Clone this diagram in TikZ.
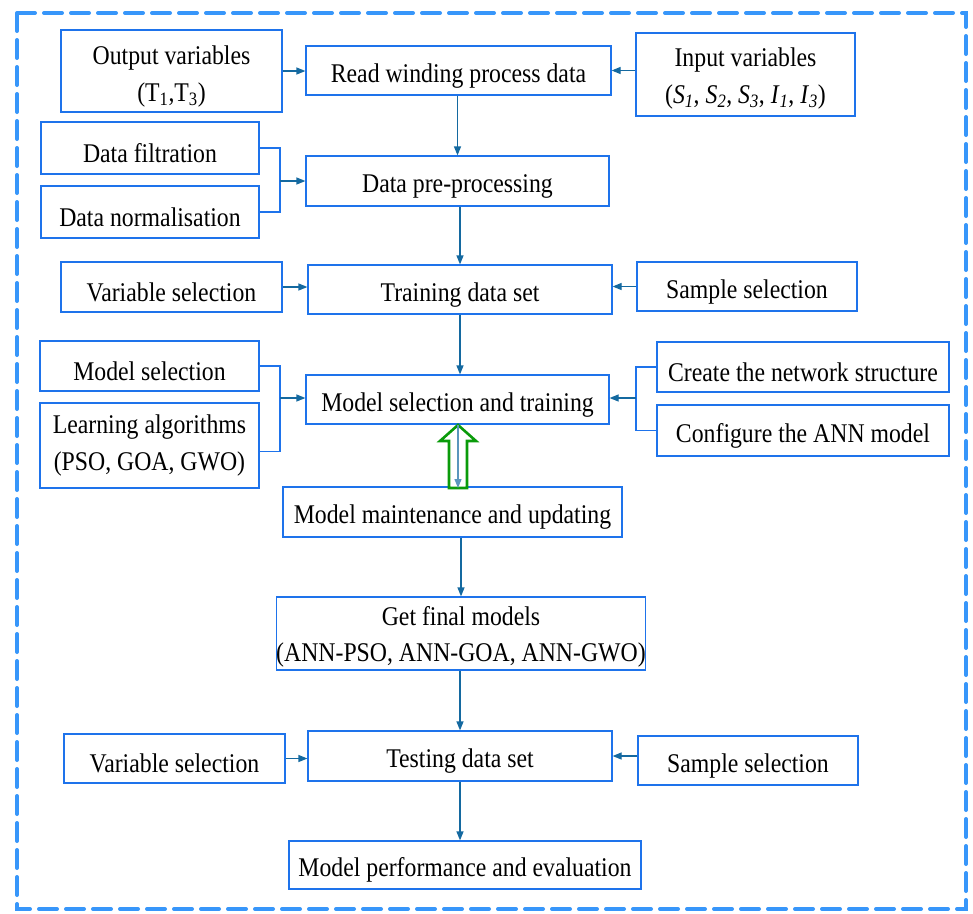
\documentclass[tikz,border=0pt]{standalone}
\usepackage{fontspec}
\setmainfont{Liberation Serif}[FakeStretch=0.88]
\usetikzlibrary{arrows.meta}
\definecolor{boxblue}{RGB}{30,115,235}
\definecolor{arrblue}{RGB}{20,105,160}
\definecolor{dashblue}{RGB}{55,150,250}
\definecolor{arrgreen}{RGB}{10,155,10}
\newcommand{\tallstrut}[1]{\rule{0pt}{#1pt}}
\begin{document}
\begin{tikzpicture}[x=1pt,y=-1pt,
 box/.style={draw=boxblue, line width=1.2pt, fill=white, inner sep=0pt, align=center, font=\fontsize{27}{33}\selectfont, execute at begin node={\rule{0pt}{29pt}}},
 two/.style={execute at begin node={}},
 sz/.style 2 args={minimum width=#1pt, minimum height=#2pt},
 arr/.style={draw=arrblue, line width=1.2pt, -{Triangle[length=9pt,width=7pt]}},
 brk/.style={draw=boxblue, line width=1.2pt}]
\useasboundingbox (0,0) rectangle (973,913);
\draw[dashblue, line width=4pt, dash pattern=on 18pt off 9pt, line cap=round] (17,13) rectangle (966,909);

\node[box, two, sz={221}{82}] (out) at (171.5,71) {\tallstrut{30}Output variables\\[4pt](T\textsubscript{1},T\textsubscript{3})};
\node[box, sz={305}{49}] (read) at (458.5,70.5) {Read winding process data};
\node[box, two, sz={219}{83}] (inp) at (745.5,74.5) {\tallstrut{26}Input variables\\[4pt](\textit{S}\textsubscript{\textit{1}}, \textit{S}\textsubscript{\textit{2}}, \textit{S}\textsubscript{\textit{3}}, \textit{I}\textsubscript{\textit{1}}, \textit{I}\textsubscript{\textit{3}})};
\node[box, sz={218}{52}] (filt) at (150,148) {Data filtration};
\node[box, sz={218}{52}] (norm) at (150,212) {Data normalisation};
\node[box, sz={303}{50}] (pre) at (457.5,181) {Data pre-processing};
\node[box, sz={221}{50}] (vs1) at (171.5,287) {Variable selection};
\node[box, sz={304}{49}] (train) at (460,289.5) {Training data set};
\node[box, sz={220}{49}] (ss1) at (747,286.5) {Sample selection};
\node[box, sz={219}{50}] (ms) at (149.5,366) {Model selection};
\node[box, two, sz={219}{85}] (la) at (149.5,445.5) {Learning algorithms\\[4pt](PSO, GOA, GWO)};
\node[box, sz={303}{49}] (mst) at (457.5,399.5) {Model selection and training};
\node[box, sz={292}{50}] (cns) at (803,367) {Create the network structure};
\node[box, sz={292}{51}] (cfg) at (803,430.5) {Configure the ANN model};
\node[box, sz={339}{50}] (mmu) at (452.5,512) {Model maintenance and updating};
\node[box, two, sz={360}{73}] (gfm) at (461,633.5) {\tallstrut{26}Get final models\\[3pt](ANN-PSO, ANN-GOA, ANN-GWO)};
\node[box, sz={221}{49}] (vs2) at (174.5,758.5) {Variable selection};
\node[box, sz={304}{50}] (test) at (460,756) {Testing data set};
\node[box, sz={220}{49}] (ss2) at (748,760.5) {Sample selection};
\node[box, sz={352}{48}] (perf) at (465,865) {Model performance and evaluation};

% horizontal arrows
\draw[arr] (out.east) -- (out.east -| read.west);
\draw[arr] (inp.west |- read.east) -- (read.east);
\draw[arr] (vs1.east) -- (vs1.east -| train.west);
\draw[arr] (ss1.west) -- (ss1.west -| train.east);
\draw[arr] (vs2.east) -- (vs2.east -| test.west);
\draw[arr] (ss2.west |- test.east) -- (test.east);

% brackets
\coordinate (j1) at (280,181);
\draw[brk] (filt.east) -| (j1) |- (norm.east);
\draw[arr] (j1) -- (j1 -| pre.west);
\coordinate (j2) at (280,398);
\draw[brk] (ms.east) -| (j2) |- ([yshift=-6pt]la.east);
\draw[arr] (j2) -- (j2 -| mst.west);
\coordinate (j3) at (636,398);
\draw[brk] (cns.west) -| (j3) |- (cfg.west);
\draw[arr] (j3) -- (j3 -| mst.east);

% vertical arrows
\draw[arr] (read.south -| pre.north) -- (pre.north);
\draw[arr] (train.north |- pre.south) -- (train.north);
\draw[arr] (train.south) -- (train.south |- mst.north);
\draw[arr] (gfm.north |- mmu.south) -- (gfm.north);
\draw[arr] (test.north |- gfm.south) -- (test.north);
\draw[arr] (test.south) -- (test.south |- perf.north);

% green hollow arrow with inner blue arrow
\coordinate (gt) at (458,425);
\coordinate (gb) at (458,488);
\draw[arrgreen, line width=2.6pt, fill=white, line join=miter]
  ([xshift=-9pt]gb) -- ([xshift=9pt]gb) -- (467,441) -- (476,441) -- (gt) -- (440,441) -- (449,441) -- cycle;
\draw[arr, draw=arrblue!70] (gt) -- (gb);
\end{tikzpicture}
\end{document}
